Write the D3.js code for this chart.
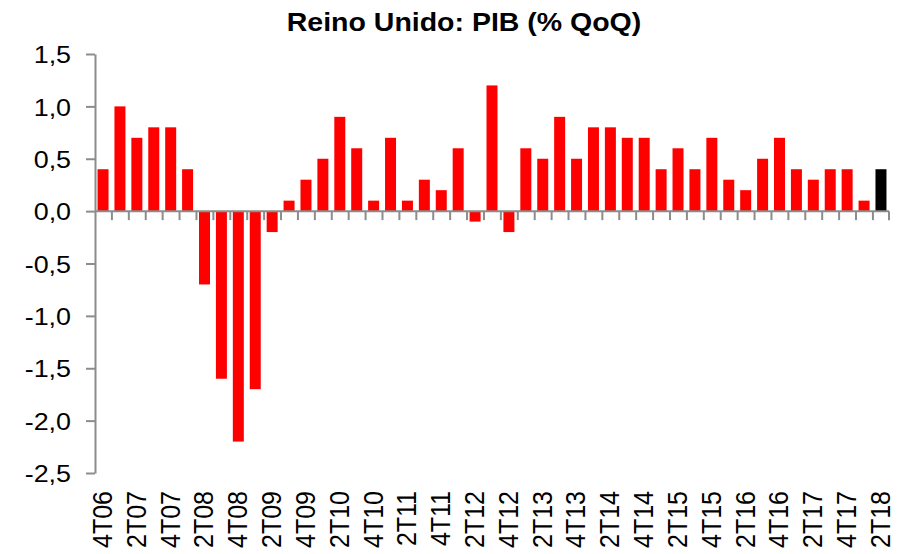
<!DOCTYPE html>
<html>
<head>
<meta charset="utf-8">
<script src="https://cdn.jsdelivr.net/npm/d3@7"></script>
<style>
  body { margin: 0; background: #fff; }
  text { font-family: "Liberation Sans", Arial, sans-serif; fill: #000; }
</style>
</head>
<body>
<div class="container"></div>
<script>
const WIDTH = 904;
const HEIGHT = 554;

// quarters 4T06 .. 2T18
var quarters = ["4T06", "1T07", "2T07", "3T07", "4T07", "1T08", "2T08", "3T08", "4T08",
    "1T09", "2T09", "3T09", "4T09", "1T10", "2T10", "3T10", "4T10", "1T11", "2T11", "3T11",
    "4T11", "1T12", "2T12", "3T12", "4T12", "1T13", "2T13", "3T13", "4T13", "1T14", "2T14",
    "3T14", "4T14", "1T15", "2T15", "3T15", "4T15", "1T16", "2T16", "3T16", "4T16", "1T17",
    "2T17", "3T17", "4T17", "1T18", "2T18"];
var gdp = [0.4, 1.0, 0.7, 0.8, 0.8, 0.4, -0.7, -1.6, -2.2, -1.7, -0.2, 0.1, 0.3, 0.5, 0.9,
    0.6, 0.1, 0.7, 0.1, 0.3, 0.2, 0.6, -0.1, 1.2, -0.2, 0.6, 0.5, 0.9, 0.5, 0.8, 0.8, 0.7,
    0.7, 0.4, 0.6, 0.4, 0.7, 0.3, 0.2, 0.5, 0.7, 0.4, 0.3, 0.4, 0.4, 0.1, 0.4];
var yTicks = [1.5, 1.0, 0.5, 0.0, -0.5, -1.0, -1.5, -2.0, -2.5];
var xLabels = quarters.filter((q, i) => i % 2 === 0);

var translate = function(x, y) {
    return `translate(${x},${y})`;
};

var svg = d3.select('.container').append('svg')
    .attr('width', WIDTH)
    .attr('height', HEIGHT);

let xScale = d3.scaleBand()
    .domain(quarters)
    .range([95, 889])
    .paddingInner(0.35)
    .paddingOuter(0.15);

let yScale = d3.scaleLinear()
    .domain([-2.5, 1.5])
    .range([473, 54]);

// title
svg.append('text')
    .attr('transform', translate(464, 31) + ' scale(1.14,1)')
    .attr('text-anchor', 'middle')
    .style('font-size', '25px')
    .style('font-weight', 'bold')
    .text('Reino Unido: PIB (% QoQ)');

// bars
svg.append('g').selectAll('rect').data(gdp).enter()
    .append('rect')
    .attr('x', (d, i) => xScale(quarters[i]))
    .attr('width', xScale.bandwidth())
    .attr('y', (d) => yScale(Math.max(0, d)))
    .attr('height', (d) => Math.abs(yScale(d) - yScale(0)))
    .attr('fill', (d, i) => i === gdp.length - 1 ? '#000' : '#ff0000');

// y axis
let yAxis = d3.axisLeft(yScale)
    .tickValues(yTicks)
    .tickSize(9)
    .tickSizeOuter(0)
    .tickFormat((d) => d.toFixed(1).replace('.', ','));

var yG = svg.append('g')
    .attr('transform', translate(95, 0))
    .call(yAxis);
yG.select('.domain').attr('stroke', '#8c8c8c').attr('stroke-width', 2);
yG.selectAll('.tick line').attr('stroke', '#8c8c8c').attr('stroke-width', 2);
yG.selectAll('.tick text')
    .attr('x', -21.4)
    .attr('dy', '0.36em')
    .attr('transform', 'scale(1.12,1)')
    .style('font-size', '24px')
    .style('font-family', '"Liberation Sans", Arial, sans-serif')
    .attr('fill', '#000');

// x axis along zero, ticks at band edges
var step = xScale.step();
var edges = quarters.map((q, i) => 95 + i * step).slice(1).concat([889]);
var y0 = yScale(0);
var xG = svg.append('g');
xG.append('line')
    .attr('x1', 95).attr('x2', 889)
    .attr('y1', y0).attr('y2', y0)
    .attr('stroke', '#8c8c8c').attr('stroke-width', 2);
xG.selectAll('line.tick').data(edges).enter()
    .append('line')
    .classed('tick', true)
    .attr('x1', (d) => d).attr('x2', (d) => d)
    .attr('y1', y0).attr('y2', y0 + 9)
    .attr('stroke', '#8c8c8c').attr('stroke-width', 2);

// category labels at the bottom, rotated
svg.append('g').selectAll('text').data(xLabels).enter()
    .append('text')
    .attr('transform', (d) => translate(xScale(d) + xScale.bandwidth() / 2 - 1, 491) + ' scale(1.1,1) rotate(-90)')
    .attr('text-anchor', 'end')
    .attr('dy', '0.36em')
    .style('font-size', '25px')
    .text((d) => d);
</script>
</body>
</html>
